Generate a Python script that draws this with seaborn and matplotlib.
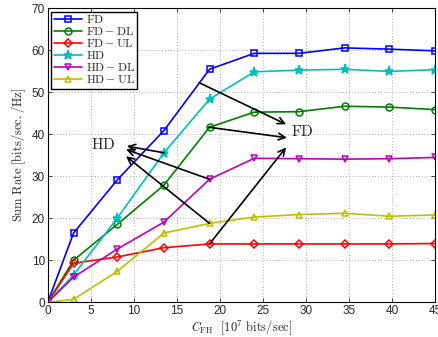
"""Sum rate vs fronthaul capacity for FD and HD schemes."""

import matplotlib

matplotlib.use("Agg")
import matplotlib.pyplot as plt
import pandas as pd
import seaborn as sns

# fronthaul capacity [10^7 bits/sec]
c_fh = [0, 3, 8.1, 13.5, 18.8, 24, 29.2, 34.5, 39.7, 45]

fd = [0, 16.5, 29.2, 40.9, 55.5, 59.3, 59.3, 60.6, 60.3, 59.9]
fd_dl = [0, 10.0, 18.6, 27.9, 41.7, 45.3, 45.4, 46.7, 46.5, 45.9]
fd_ul = [0, 9.3, 10.8, 13.0, 13.9, 13.9, 13.9, 13.9, 13.9, 14.0]
hd = [0, 6.5, 20.1, 35.6, 48.4, 54.9, 55.3, 55.5, 55.0, 55.4]
hd_dl = [0, 6.0, 12.7, 19.1, 29.3, 34.3, 34.2, 34.1, 34.2, 34.5]
hd_ul = [0, 0.7, 7.4, 16.5, 18.8, 20.3, 20.9, 21.2, 20.5, 20.8]

labels = ["FD", "FD-DL", "FD-UL", "HD", "HD-DL", "HD-UL"]
legend_text = [r"$\mathrm{FD}$", r"$\mathrm{FD-DL}$", r"$\mathrm{FD-UL}$",
               r"$\mathrm{HD}$", r"$\mathrm{HD-DL}$", r"$\mathrm{HD-UL}$"]
colors = ["#0000ff", "#008000", "#ff0000", "#00bfbf", "#bf00bf", "#bfbf00"]
markers = ["s", "o", "D", "*", "v", "^"]

# arrows: (tail, head) in data coords
hd_arrows = [((13.5, 35.6), (9.2, 37.2)),
             ((18.8, 29.3), (9.1, 36.4)),
             ((18.8, 18.8), (9.1, 34.8))]
fd_arrows = [((17.6, 52.3), (27.7, 42.4)),
             ((18.7, 41.7), (27.8, 39.2)),
             ((18.8, 13.9), (27.7, 36.9))]

df = pd.DataFrame({"c_fh": c_fh * 6,
                   "rate": fd + fd_dl + fd_ul + hd + hd_dl + hd_ul,
                   "scheme": [lab for lab in labels for _ in c_fh]})

sns.set_style("ticks")
plt.rcParams["mathtext.fontset"] = "cm"
plt.rcParams["font.family"] = ["Liberation Sans", "DejaVu Sans"]

fig = plt.figure(figsize=(4.38, 3.37), dpi=100)
ax = fig.add_axes([0.109, 0.103, 0.884, 0.872])

for lab, col, mk in zip(labels, colors, markers):
    sub = df[df["scheme"] == lab]
    filled = mk == "*"
    size = {"*": 6.5, "D": 4.5, "o": 5}.get(mk, 5)
    sns.lineplot(data=sub, x="c_fh", y="rate", ax=ax, color=col, marker=mk,
                 markersize=size, markeredgewidth=1.1,
                 markerfacecolor=col if filled else "none", markeredgecolor=col,
                 linewidth=1.2, label=lab)

for tail, head in hd_arrows + fd_arrows:
    ax.annotate("", xy=head, xytext=tail,
                arrowprops=dict(arrowstyle="->", color="k", lw=1.2, mutation_scale=12,
                                shrinkA=0, shrinkB=0))
ax.text(6.4, 37.7, r"$\mathrm{HD}$", fontsize=11, ha="center", va="center")
ax.text(29.6, 40.6, r"$\mathrm{FD}$", fontsize=11, ha="center", va="center")

ax.set_xlim(0, 45)
ax.set_ylim(0, 70)
ax.set_xticks(range(0, 46, 5))
ax.set_yticks(range(0, 71, 10))
ax.tick_params(direction="in", labelsize=8.5, top=True, right=True, length=3, width=0.6, pad=2)
ax.grid(True, linestyle=(0, (1, 2.5)), color="#999999", linewidth=0.6)
for sp in ax.spines.values():
    sp.set_color("k")
    sp.set_linewidth(0.8)

ax.set_xlabel(r"$C_{\mathrm{FH}}\ \ [10^7\ \mathrm{bits/sec}]$", fontsize=9, labelpad=1)
ax.set_ylabel(r"$\mathrm{Sum\ Rate\ [bits/sec./Hz]}$", fontsize=9, labelpad=3)

handles, _ = ax.get_legend_handles_labels()
leg = ax.legend(handles, legend_text, loc="upper left", fontsize=8.5, fancybox=False,
                edgecolor="k", framealpha=1, labelspacing=0.0, borderpad=0.2,
                handlelength=2.4, handletextpad=0.3, borderaxespad=0.3)
leg.get_frame().set_linewidth(1.0)

fig.savefig("out.png", dpi=100)
